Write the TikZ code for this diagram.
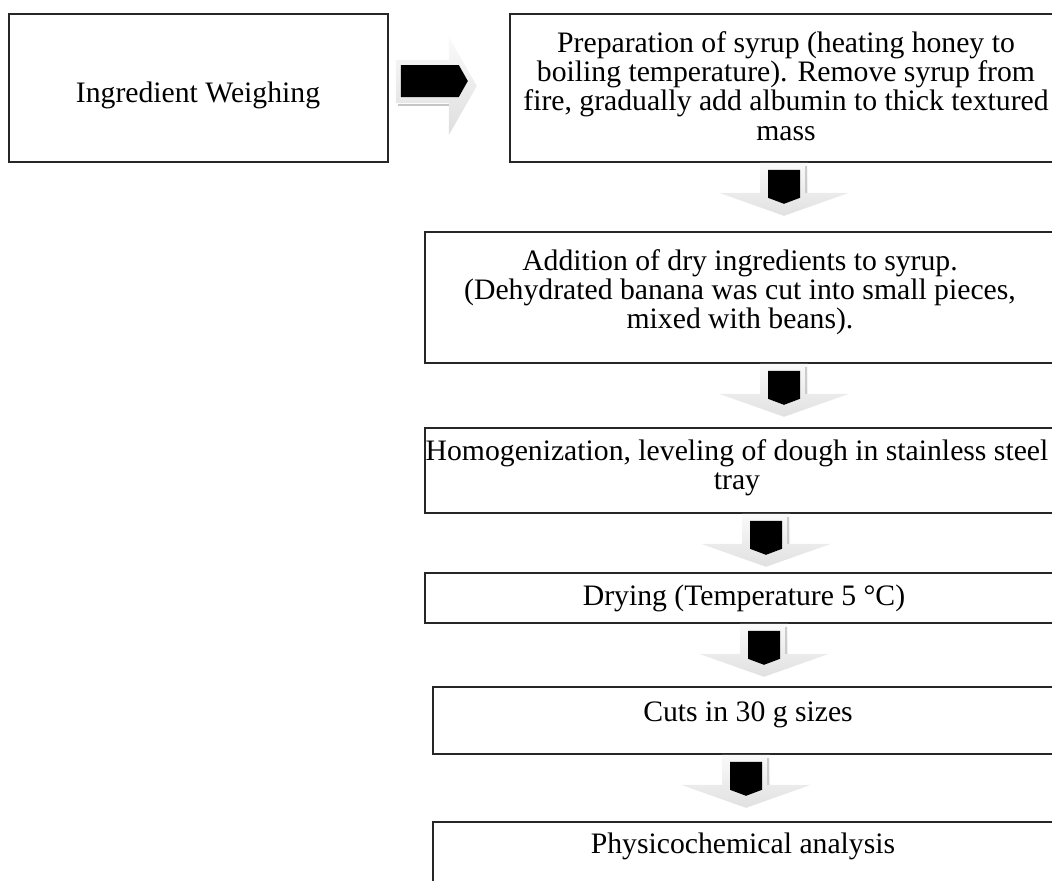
\documentclass[tikz,border=0pt]{standalone}
\usepackage{fontspec}
\setmainfont{Liberation Serif}
\usetikzlibrary{fit}

% block arrows as drawn by the word processor
\tikzset{
  downblock/.pic={
    \shade[top color=gray!4, bottom color=gray!24]
      (-24,0) -- (24,0) -- (24,30) -- (65,30) -- (0,53) -- (-65,30) -- (-24,30) -- cycle;
    \draw[draw=gray!40, line width=1.2pt] (22,3) -- (22,30);
    \fill[black] (-16,7) -- (16,7) -- (16,35) -- (0,41) -- (-16,35) -- cycle;
  },
  rightblock/.pic={
    \shade[top color=gray!4, bottom color=gray!26]
      (7,-28) -- (60,-28) -- (60,-51) -- (88,-2) -- (60,47) -- (60,15) -- (7,15) -- cycle;
    \draw[draw=gray!45, line width=1.5pt] (9,17) -- (60,17);
    \fill[black] (12,-23) -- (70,-23) -- (79,-7) -- (70,9) -- (12,9) -- cycle;
  }
}

\begin{document}
\begin{tikzpicture}[
    x=0.02cm, y=-0.02cm,
    every node/.style={font=\fontsize{16.9}{16.6}\selectfont},
    stepbox/.style={rectangle, draw=black!85, line width=0.9pt, inner sep=0pt},
    steptext/.style={align=center, inner sep=0pt}
]
\useasboundingbox (0,0) rectangle (1052,880);
\clip (0,0) rectangle (1052,880);

% === Top row ===
\node[stepbox, fit={(9,14) (388,162)}] (weigh) {};
\node[steptext] (weightext) at (198,95) {Ingredient Weighing};

\node[stepbox, fit={(510,14) (1062,162)}] (syrup) {};
\node[steptext] (syruptext) at (786,86)
    {Preparation of syrup (heating honey to\\
     boiling temperature). Remove syrup from\\
     fire, gradually add albumin to thick textured\\
     mass};
\pic at (weigh.east) {rightblock};

% === Column of steps ===
\node[stepbox, fit={(425,232) (1062,363)}] (dry) {};
\node[steptext] (drytext) at (740,292)
    {Addition of dry ingredients to syrup.\\
     (Dehydrated banana was cut into small pieces,\\
     mixed with beans).};

\node[stepbox, fit={(425,428) (1062,513)}] (homog) {};
\node[steptext] (homogtext) at (737,468)
    {Homogenization, leveling of dough in stainless steel\\ tray};

\node[stepbox, fit={(425,573) (1062,623)}] (drying) {};
\node[steptext] (dryingtext) at (744,598) {Drying (Temperature 5 °C)};

\node[stepbox, fit={(433,687) (1062,754)}] (cuts) {};
\node[steptext] (cutstext) at (748,715) {Cuts in 30 g sizes};

\node[stepbox, fit={(433,822) (1062,900)}] (analysis) {};
\node[steptext] (analysistext) at (743,846) {Physicochemical analysis};

% arrow columns
\coordinate (ca) at (784,0);
\coordinate (cb) at (784,0);
\coordinate (cc) at (766,0);
\coordinate (cd) at (764,0);
\coordinate (ce) at (746,0);

\pic at (ca |- syrup.south) {downblock};
\pic at (cb |- dry.south) {downblock};
\pic at (cc |- homog.south) {downblock};
\pic at (cd |- drying.south) {downblock};
\pic at (ce |- cuts.south) {downblock};

\end{tikzpicture}
\end{document}
